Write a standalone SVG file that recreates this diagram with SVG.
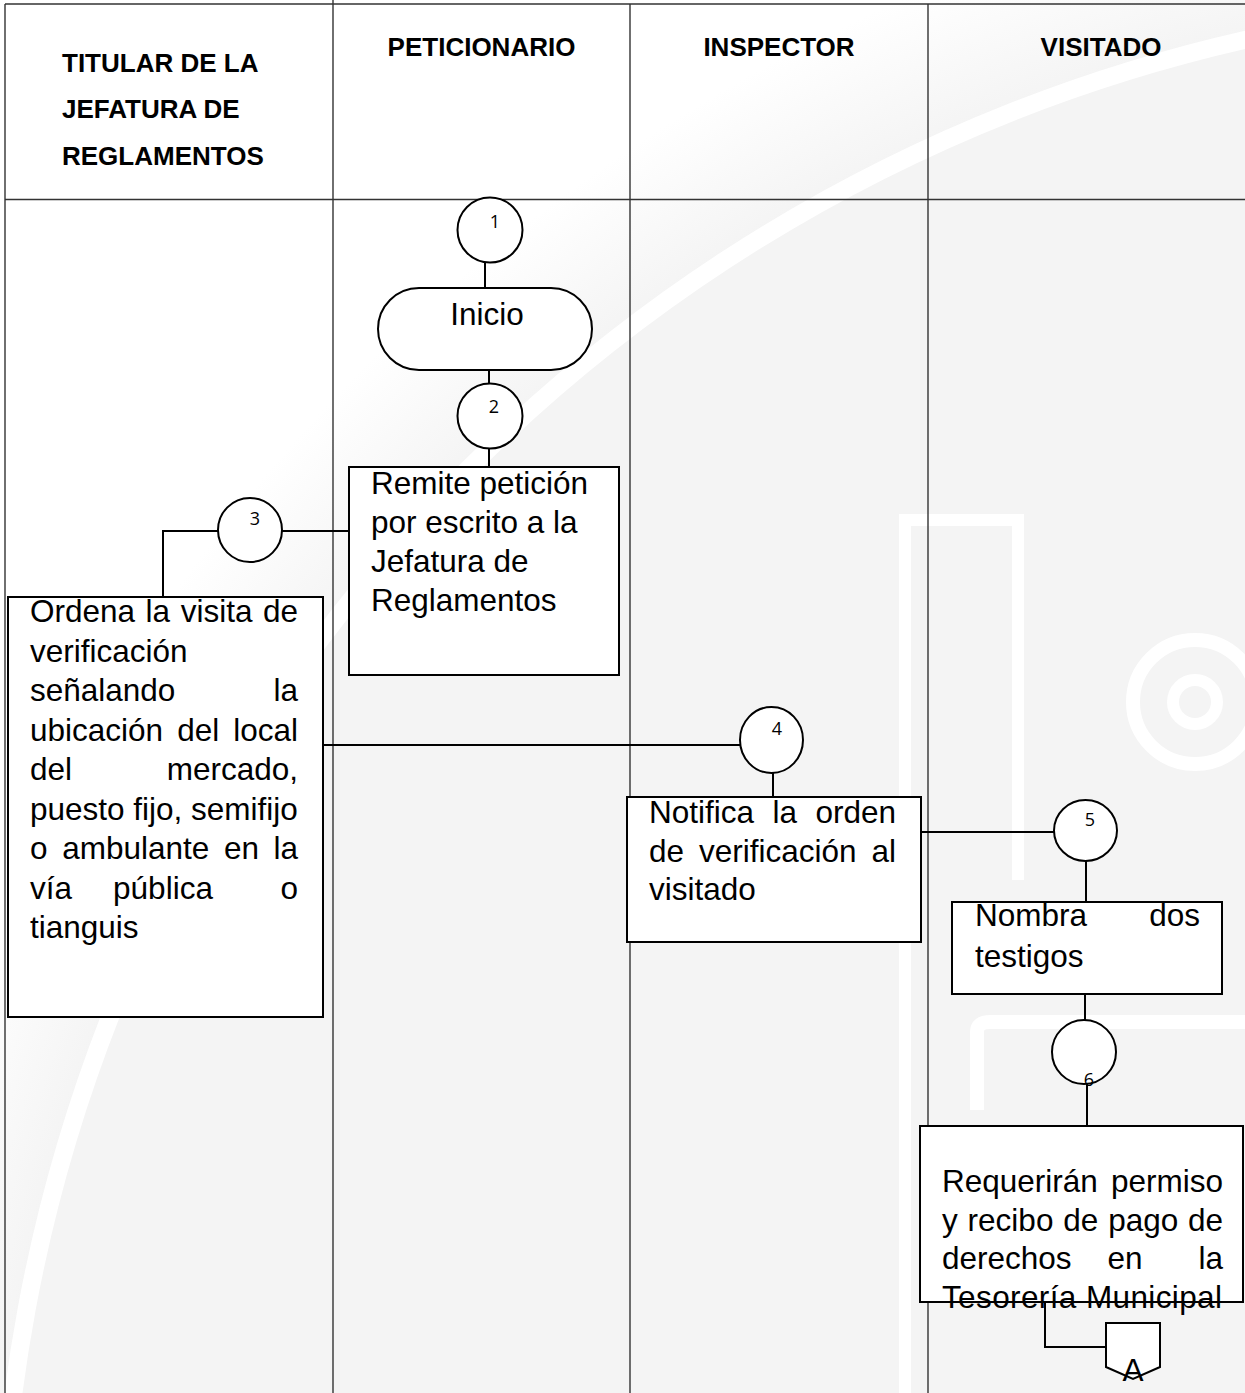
<svg xmlns="http://www.w3.org/2000/svg" width="1245" height="1393" viewBox="0 0 1245 1393">
<defs>
<radialGradient id="wm" gradientUnits="userSpaceOnUse" cx="1600" cy="1600" r="1800">
<stop offset="0" stop-color="#f4f4f4"/>
<stop offset="0.89" stop-color="#f4f4f4"/>
<stop offset="0.97" stop-color="#ffffff"/>
</radialGradient>
<style>
.grid{stroke:#333;stroke-width:1.4;fill:none}
.shape{fill:#fff;stroke:#000;stroke-width:2}
.conn{fill:none;stroke:#000;stroke-width:2}
.hdr{font-family:"Liberation Sans",Arial,sans-serif;font-weight:bold;font-size:26px;fill:#000}
.txt{font-family:"Liberation Sans",Arial,sans-serif;font-size:31.5px;fill:#000}
.num{font-family:"Open Sans","Liberation Sans",sans-serif;font-size:18px;fill:#000}
.wm{fill:none;stroke:#fff}
</style>
</defs>
<rect x="0" y="0" width="1245" height="1393" fill="#fff"/>
<g id="watermark">
<circle cx="1600" cy="1600" r="1800" fill="url(#wm)"/>
<circle class="wm" cx="1600" cy="1600" r="1600" stroke-width="18"/>
<path class="wm" d="M905 1393 V520 H1018 V880" stroke-width="12"/>
<path class="wm" d="M977 1110 V1032 Q977 1022 990 1022 H1245" stroke-width="14"/>
<circle class="wm" cx="1195" cy="702" r="62" stroke-width="14"/>
<circle class="wm" cx="1195" cy="702" r="22" stroke-width="12"/>
</g>
<g id="table">
<line class="grid" x1="5" y1="4" x2="1245" y2="4"/>
<line class="grid" x1="5" y1="4" x2="5" y2="1393"/>
<line class="grid" x1="5" y1="199.5" x2="1245" y2="199.5" stroke="#555" stroke-width="1.8"/>
<line class="grid" x1="333" y1="0" x2="333" y2="1393"/>
<line class="grid" x1="630" y1="4" x2="630" y2="1393"/>
<line class="grid" x1="928" y1="4" x2="928" y2="1393"/>
<text class="hdr" x="62" y="71.5">TITULAR DE LA</text>
<text class="hdr" x="62" y="118">JEFATURA DE</text>
<text class="hdr" x="62" y="165">REGLAMENTOS</text>
<text class="hdr" x="481.5" y="56" text-anchor="middle">PETICIONARIO</text>
<text class="hdr" x="779" y="56" text-anchor="middle">INSPECTOR</text>
<text class="hdr" x="1101" y="56" text-anchor="middle">VISITADO</text>
</g>
<g id="connectors">
<path class="conn" d="M485 263 V288"/>
<path class="conn" d="M489 370 V383"/>
<path class="conn" d="M489 449 V467"/>
<path class="conn" d="M349 531 H282"/>
<path class="conn" d="M218 531 H163 V597"/>
<path class="conn" d="M323 745 H740"/>
<path class="conn" d="M773 773 V797"/>
<path class="conn" d="M917 832 H1054"/>
<path class="conn" d="M1086 861 V902"/>
<path class="conn" d="M1085 994 V1021"/>
<path class="conn" d="M1087 1077 V1126"/>
<path class="conn" d="M1045 1302 V1347 H1108"/>
</g>
<g id="n1">
<circle class="shape" cx="490" cy="230" r="32.5"/>
<text class="num" x="495" y="228" text-anchor="middle">1</text>
</g>
<g id="inicio">
<rect class="shape" x="378" y="288" width="214" height="82" rx="41" ry="41"/>
<text class="txt" x="487" y="325" text-anchor="middle">Inicio</text>
</g>
<g id="n2">
<circle class="shape" cx="490" cy="416" r="32.5"/>
<text class="num" x="494" y="413" text-anchor="middle">2</text>
</g>
<g id="remite">
<rect class="shape" x="349" y="467" width="270" height="208"/>
<text class="txt" x="371" y="494">Remite petición</text>
<text class="txt" x="371" y="533">por escrito a la</text>
<text class="txt" x="371" y="572">Jefatura de</text>
<text class="txt" x="371" y="611">Reglamentos</text>
</g>
<g id="n3">
<circle class="shape" cx="250" cy="530" r="32"/>
<text class="num" x="255" y="525" text-anchor="middle">3</text>
</g>
<g id="ordena">
<rect class="shape" x="8" y="597" width="315" height="420"/>
<text class="txt" x="30" y="622" word-spacing="1.8">Ordena la visita de</text>
<text class="txt" x="30" y="661.5">verificación</text>
<text class="txt" x="30" y="701">señalando</text>
<text class="txt" x="298" y="701" text-anchor="end">la</text>
<text class="txt" x="30" y="740.5" word-spacing="5.3">ubicación del local</text>
<text class="txt" x="30" y="780">del</text>
<text class="txt" x="298" y="780" text-anchor="end">mercado,</text>
<text class="txt" x="30" y="819.5">puesto fijo, semifijo</text>
<text class="txt" x="30" y="859" word-spacing="5.9">o ambulante en la</text>
<text class="txt" x="30" y="898.5">vía</text>
<text class="txt" x="163" y="898.5" text-anchor="middle">pública</text>
<text class="txt" x="298" y="898.5" text-anchor="end">o</text>
<text class="txt" x="30" y="938">tianguis</text>
</g>
<g id="n4">
<ellipse class="shape" cx="771.5" cy="740" rx="31.5" ry="33"/>
<text class="num" x="777" y="735" text-anchor="middle">4</text>
</g>
<g id="notifica">
<rect class="shape" x="627" y="797" width="294" height="145"/>
<text class="txt" x="649" y="823" word-spacing="9.7">Notifica la orden</text>
<text class="txt" x="649" y="862" word-spacing="6.2">de verificación al</text>
<text class="txt" x="649" y="900">visitado</text>
</g>
<g id="n5">
<ellipse class="shape" cx="1085.5" cy="830.5" rx="31.5" ry="30.5"/>
<text class="num" x="1090" y="826" text-anchor="middle" font-size="16">5</text>
</g>
<g id="nombra">
<rect class="shape" x="952" y="902" width="270" height="92"/>
<text class="txt" x="975" y="926">Nombra</text>
<text class="txt" x="1200" y="926" text-anchor="end">dos</text>
<text class="txt" x="975" y="967">testigos</text>
</g>
<g id="n6">
<circle class="shape" cx="1084" cy="1052" r="32"/>
<text class="num" x="1089" y="1086" text-anchor="middle">6</text>
</g>
<g id="requeriran">
<rect class="shape" x="920" y="1126" width="323" height="176"/>
<text class="txt" x="942" y="1192">Requerirán</text>
<text class="txt" x="1223" y="1192" text-anchor="end">permiso</text>
<text class="txt" x="942" y="1230.5" word-spacing="1.1">y recibo de pago de</text>
<text class="txt" x="942" y="1269">derechos</text>
<text class="txt" x="1125" y="1269" text-anchor="middle">en</text>
<text class="txt" x="1223" y="1269" text-anchor="end">la</text>
<text class="txt" x="942" y="1308" textLength="280" lengthAdjust="spacing">Tesorería Municipal</text>
</g>
<g id="offpageA">
<polygon class="shape" points="1106,1323 1160,1323 1160,1367 1133,1379 1106,1367"/>
<text class="txt" x="1133" y="1381" text-anchor="middle" font-size="21">A</text>
</g>
</svg>
